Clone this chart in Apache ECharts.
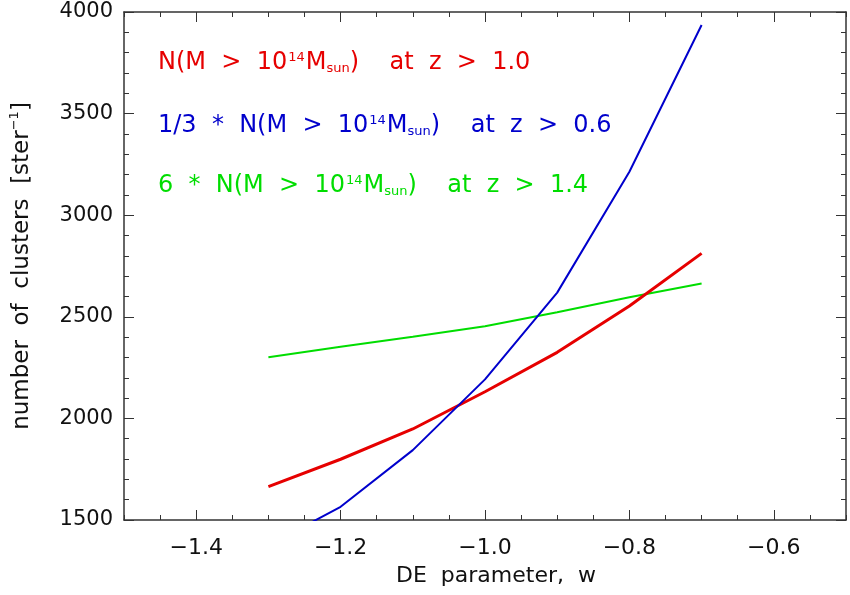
<!DOCTYPE html>
<html>
<head>
<meta charset="utf-8">
<script src="https://cdn.jsdelivr.net/npm/echarts@6/dist/echarts.min.js"></script>
<style>
  html, body { margin: 0; padding: 0; background: #fff; }
  #chart { width: 850px; height: 595px; }
</style>
</head>
<body>
<div id="chart"></div>
<script>
// DE parameter w values
const wValues = [-1.3, -1.2, -1.1, -1.0, -0.9, -0.8, -0.7];
// cluster counts per steradian
const redCounts = [1664, 1799, 1948, 2131, 2325, 2553, 2812];
const blueCounts = [1375, 1565, 1844, 2192, 2619, 3214, 3936];
const greenCounts = [2301, 2353, 2402, 2453, 2522, 2596, 2664];
const xTickLabels = [-1.4, -1.2, -1.0, -0.8, -0.6];
const yTickLabels = [1500, 2000, 2500, 3000, 3500, 4000];

const FONT = "DejaVu Sans";
const RED = "#e60000", BLUE = "#0000cc", GREEN = "#00dd00";
const AXIS_COLOR = "#333";
const TEXT_COLOR = "#111";

const toPairs = (ys) => wValues.map((w, i) => [w, ys[i]]);
const fmtX = (v) => (v < 0 ? "\u2212" : "") + Math.abs(v).toFixed(1);

const chart = echarts.init(document.getElementById("chart"));

const baseX = {
  type: "value", min: -1.5, max: -0.5,
  axisLine: { show: true, onZero: false, lineStyle: { color: AXIS_COLOR, width: 1.5 } },
  splitLine: { show: false }
};

// the original plot uses wide spacing between words
const richFor = (color) => ({
  m: { color, fontFamily: FONT, fontWeight: "normal", fontSize: 24, lineHeight: 32 },
  sup: { color, fontFamily: FONT, fontWeight: "normal", fontSize: 13, lineHeight: 32, verticalAlign: "top", padding: [4, 1, 0, 1] },
  sub: { color, fontFamily: FONT, fontWeight: "normal", fontSize: 13, lineHeight: 32, verticalAlign: "bottom", padding: [0, 0, 4, 0] }
});

const labelTitle = (prefix, suffix, top, color) => ({
  left: 153, top,
  text: "{m|" + prefix + "N(M  >  10}{sup|14}{m|M}{sub|sun}{m|)    at  z  >  " + suffix + "}",
  textStyle: { rich: richFor(color) }
});

const option = {
  backgroundColor: "#fff",
  animation: false,
  title: [
    labelTitle("", "1.0", 42, RED),
    labelTitle("1/3  *  ", "0.6", 105, BLUE),
    labelTitle("6  *  ", "1.4", 165, GREEN)
  ],
  grid: { left: 124, right: 4, top: 12, bottom: 75, outerBoundsMode: "none", containLabel: false },
  xAxis: [
    Object.assign({}, baseX, {
      position: "bottom", interval: 0.05,
      name: "DE  parameter,  w", nameLocation: "middle", nameGap: 45,
      nameTextStyle: { fontFamily: FONT, fontSize: 22, color: TEXT_COLOR, padding: [0, 0, 0, 22] },
      axisTick: { show: true, inside: true, length: 5, lineStyle: { color: AXIS_COLOR } },
      axisLabel: { customValues: xTickLabels, formatter: fmtX, margin: 17,
        fontFamily: FONT, fontSize: 22, color: TEXT_COLOR }
    }),
    Object.assign({}, baseX, {
      position: "bottom",
      axisLine: { show: false },
      axisTick: { show: true, inside: true, length: 10, customValues: xTickLabels, lineStyle: { color: AXIS_COLOR } },
      axisLabel: { show: false }
    }),
    Object.assign({}, baseX, {
      position: "top", interval: 0.05,
      axisTick: { show: true, inside: true, length: 5, lineStyle: { color: AXIS_COLOR } },
      axisLabel: { show: false }
    }),
    Object.assign({}, baseX, {
      position: "top",
      axisLine: { show: false },
      axisTick: { show: true, inside: true, length: 10, customValues: xTickLabels, lineStyle: { color: AXIS_COLOR } },
      axisLabel: { show: false }
    })
  ],
  yAxis: [
    {
      type: "value", position: "left", min: 1500, max: 4000, interval: 500,
      name: "{m|number  of  clusters  [ster}{sup|\u22121}{m|]}",
      nameLocation: "middle", nameGap: 88, nameRotate: 90,
      nameTextStyle: { rich: {
        m: { fontFamily: FONT, fontSize: 23, color: TEXT_COLOR, lineHeight: 28 },
        sup: { fontFamily: FONT, fontSize: 13, color: TEXT_COLOR, lineHeight: 28, verticalAlign: "top" }
      } },
      axisLine: { show: true, onZero: false, lineStyle: { color: AXIS_COLOR, width: 1.5 } },
      axisTick: { show: true, inside: true, length: 10, lineStyle: { color: AXIS_COLOR } },
      minorTick: { show: true, splitNumber: 5, length: 5, lineStyle: { color: AXIS_COLOR } },
      axisLabel: { margin: 11, fontFamily: FONT, fontSize: 21, color: TEXT_COLOR,
        customValues: yTickLabels, formatter: (v) => String(v) },
      splitLine: { show: false }
    },
    {
      type: "value", position: "right", min: 1500, max: 4000, interval: 500,
      axisLine: { show: true, onZero: false, lineStyle: { color: AXIS_COLOR, width: 1.5 } },
      axisTick: { show: true, inside: true, length: 10, lineStyle: { color: AXIS_COLOR } },
      minorTick: { show: true, splitNumber: 5, length: 5, lineStyle: { color: AXIS_COLOR } },
      axisLabel: { show: false },
      splitLine: { show: false }
    }
  ],
  series: [
    { name: "z > 1.4", type: "line", data: toPairs(greenCounts), symbol: "none",
      lineStyle: { color: GREEN, width: 2 }, clip: true },
    { name: "z > 1.0", type: "line", data: toPairs(redCounts), symbol: "none",
      lineStyle: { color: RED, width: 3 }, clip: true },
    { name: "z > 0.6", type: "line", data: toPairs(blueCounts), symbol: "none",
      lineStyle: { color: BLUE, width: 2 }, clip: true }
  ]
};

chart.setOption(option);
</script>
</body>
</html>
